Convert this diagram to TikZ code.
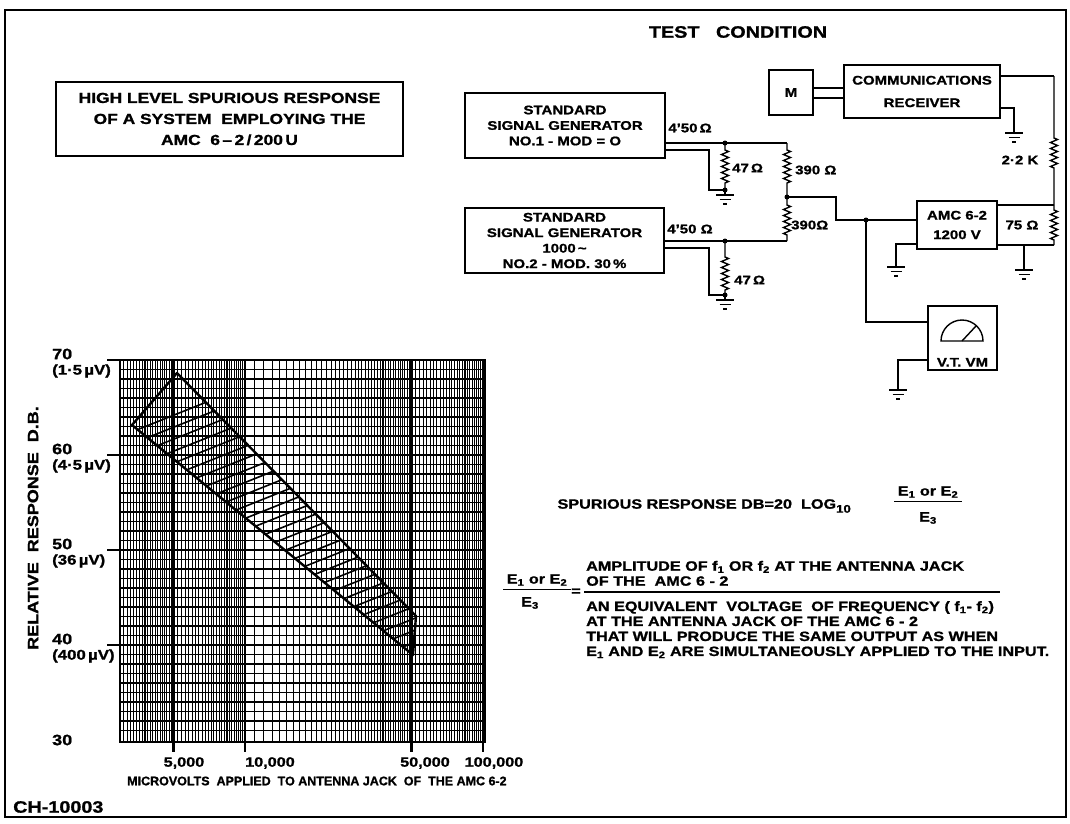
\documentclass[tikz,border=0pt]{standalone}
\usepackage{fontspec}
\setmainfont{Liberation Sans}[FakeStretch=1.2, BoldFeatures={FakeBold=1.2}]
\newfontfamily\plainfont{Liberation Sans}[BoldFeatures={FakeBold=1.2}]
\usetikzlibrary{positioning,calc,decorations.pathmorphing}

\newcommand\headfont{\fontsize{16.5}{20}\selectfont\bfseries}
\newcommand\titlefont{\fontsize{14.5}{21}\selectfont\bfseries}
\newcommand\boxfont{\fontsize{12.5}{15.5}\selectfont\bfseries}
\newcommand\notefont{\fontsize{13.5}{15}\selectfont\bfseries}
\newcommand\axisfont{\fontsize{15}{16}\selectfont\bfseries}
\newcommand\tickfont{\fontsize{13.5}{16}\selectfont\bfseries}
\newcommand\unitfont{\fontsize{14}{14}\selectfont\bfseries}
\newcommand\xfont{\plainfont\fontsize{12.5}{14}\selectfont\bfseries}

\tikzset{
  wire/.style={line width=1.4pt},
  box/.style={draw, line width=1.6pt, align=center, inner sep=0pt, font=\boxfont},
  res/.style 2 args={wire, decorate, decoration={zigzag, amplitude=3.5pt,
      segment length=6pt, pre length=#1, post length=#2}},
  dot/.style={circle, fill, inner sep=0pt, minimum size=5pt},
  lbl/.style={font=\boxfont, inner sep=1pt},
  gridline/.style={line width=1.05pt},
  gnd/.pic={\draw[wire] (0,0) -- (0,5) (-9,5) -- (9,5) (-5.5,9.5) -- (5.5,9.5) (-2,14) -- (2,14);}
}

\begin{document}
\begin{tikzpicture}[x=1pt, y=-1pt]
  \useasboundingbox (0,0) rectangle (1070,823);
  \draw[line width=1.8pt] (5,10) rectangle (1066,817);

  % headings
  \node[box, font=\titlefont, minimum width=347, minimum height=74] (title) at (229.5,119)
    {HIGH LEVEL SPURIOUS RESPONSE\\OF A SYSTEM\ \ EMPLOYING THE\\AMC\ \ 6\,--\,2\,/\,200\,U};
  \node[font=\headfont] (test) at (738,32) {TEST\ \ \ CONDITION};

  % test set-up
  \node[box, minimum width=200, minimum height=65] (sg1) at (565,125.5)
    {STANDARD\\SIGNAL GENERATOR\\NO.1 - MOD = O};
  \node[box, minimum width=199, minimum height=65] (sg2) at (564.5,240.5)
    {STANDARD\\SIGNAL GENERATOR\\1000\,\textasciitilde\\NO.2 - MOD. 30\,\%};
  \node[box, minimum width=44, minimum height=45] (meter) at (791,92.5) {M};
  \node[box, minimum width=156, minimum height=53] (rx) at (922,91.5) {COMMUNICATIONS\\[7pt]RECEIVER};
  \node[box, minimum width=80, minimum height=48] (amc) at (957,225) {AMC 6-2\\[4pt]1200 V};
  \node[box, minimum width=69, minimum height=64] (vtvm) at (962.5,338) {};
  \node[lbl, above=3pt of vtvm.south] (vtvmtxt) {V.T. VM};
  \draw[wire] (941,341) arc[start angle=180, end angle=360, radius=21] -- cycle;
  \draw[wire] (962,341) -- (976,326);

  \coordinate (j1) at (725,143);
  \coordinate (g1) at (725,190);
  \coordinate (o1) at (709,150);
  \coordinate (t2) at (787,143);
  \coordinate (j2) at (787,197);
  \coordinate (k2) at (836,197);
  \coordinate (b3) at (787,241);
  \coordinate (j3) at (725,241);
  \coordinate (o3) at (709,248);
  \coordinate (g3) at (725,295);
  \coordinate (jv) at (866,220);
  \coordinate (ta) at (1054,205);
  \coordinate (ba) at (1054,245);
  \coordinate (rt) at (1054,76);
  \coordinate (rb) at (1014,108);
  \coordinate (gr) at (1014,128);
  \coordinate (ga) at (896,262);
  \coordinate (gb) at (1024,265);
  \coordinate (gv) at (898,385);
  \coordinate (c1) at (830,88);
  \coordinate (c2) at (830,98);

  % pads
  \draw[wire] (sg1.east |- j1) -- (j1) -- (t2);
  \draw[wire] (sg1.east |- o1) -- (o1) |- (g1);
  \draw[res={7pt}{5pt}] (j1) -- (g1);
  \draw[res={7pt}{14pt}] (t2) -- (j2);
  \draw[wire] (sg2.east |- j3) -- (j3) -- (b3);
  \draw[wire] (sg2.east |- o3) -- (o3) |- (g3);
  \draw[res={16pt}{5pt}] (j3) -- (g3);
  \draw[res={8pt}{5pt}] (j2) -- (b3);
  % receiver side
  \draw[wire] (j2) -- (k2) |- (jv) -- (amc.west |- jv);
  \draw[wire] (jv) |- ($(vtvm.west)+(0,-16)$);
  \draw[wire] ($(vtvm.west)+(0,22)$) -| (gv);
  \draw[wire] ($(amc.west)+(0,19)$) -| (ga);
  \draw[wire] (amc.east |- ta) -- (ta);
  \draw[wire] (amc.east |- ba) -- (ba);
  \draw[res={5pt}{3pt}] (ta) -- (ba);
  \draw[wire] (gb |- ba) -- (gb);
  \draw[wire] (meter.east |- c1) -- (rx.west |- c1) (meter.east |- c2) -- (rx.west |- c2);
  \draw[wire] (rx.east |- rt) -- (rt);
  \draw[res={62pt}{37pt}] (rt) -- (ta);
  \draw[wire] (rx.east |- rb) -- (rb) -- (gr);
  \foreach \p in {j1,g1,j2,j3,g3,jv} \node[dot] at (\p) {};
  \foreach \p in {g1,g3,ga,gb,gv,gr} \pic at (\p) {gnd};

  \node[lbl] (coax1) at (690,128) {4'50\,Ω};
  \node[lbl, anchor=west] (r1lbl) at (731,168) {47\,Ω};
  \node[lbl, anchor=west] (r2lbl) at (794,170) {390 Ω};
  \node[lbl, anchor=west] (r3lbl) at (790,225) {390Ω};
  \node[lbl] (coax2) at (690,229) {4'50 Ω};
  \node[lbl, anchor=west] (r4lbl) at (733,280) {47\,Ω};
  \node[lbl] (r5lbl) at (1020,160) {2·2 K};
  \node[lbl] (r6lbl) at (1022,225) {75 Ω};

  % graph paper
  \foreach \v in {30,31,...,49} \draw[gridline] ({245+238*log10(\v/100)},360) -- ++(0,382);
  \foreach \v in {50,52,...,98} \draw[gridline] ({245+238*log10(\v/100)},360) -- ++(0,382);
  \foreach \v in {11,12,...,49} \draw[gridline] ({245+238*log10(\v/10)},360) -- ++(0,382);
  \foreach \v in {52,54,...,98} \draw[gridline] ({245+238*log10(\v/10)},360) -- ++(0,382);
  \foreach \d in {1,...,39} \draw[line width=1.4pt] (120,{360+9.5*\d}) -- ++(365,0);
  \draw[line width=1.4pt] (120,360) rectangle (485,742);
  \foreach \v in {5,10,50,100} \draw[line width=2.6pt] ({245+238*log10(\v/10)},360) -- ++(0,392);
  \foreach \d/\u in {70/1·5\,µV, 60/4·5\,µV, 50/36\,µV, 40/400\,µV}{
    \draw[line width=1.8pt] (107,{360+(70-\d)*9.5}) -- ++(13,0);
    \node[font=\axisfont, anchor=west, inner sep=0pt] (db\d) at (52,{354+(70-\d)*9.5}) {\d};
    \node[font=\unitfont, anchor=west, inner sep=0pt] (uv\d) at (52,{371+(70-\d)*9.5}) {(\u)};
  }
  \node[font=\axisfont, anchor=west, inner sep=0pt] (db30) at (52,740) {30};
  \node[font=\axisfont, rotate=90] (ytitle) at (33,528) {RELATIVE\ \ RESPONSE\ \ D.B.};

  \node[font=\tickfont] (x5) at (184,763) {5,000};
  \node[font=\tickfont] (x10) at (270,763) {10,000};
  \node[font=\tickfont] (x50) at (425,763) {50,000};
  \node[font=\tickfont] (x100) at (494,763) {100,000};
  \node[font=\xfont, anchor=west, inner sep=0pt] (xtitle) at (127,781)
    {MICROVOLTS\ \ APPLIED\ \ TO ANTENNA JACK\ \ OF\ \ THE AMC 6-2};
  \node[font=\headfont, anchor=west, inner sep=0pt] (code) at (13,807) {CH-10003};

  % response band
  \coordinate (bL) at (132,425);
  \coordinate (bT) at (177,373);
  \coordinate (bR) at (416,616);
  \coordinate (bB) at (413,655);
  \draw[line width=2.4pt, line join=round] (bL) -- (bT) -- (bR) -- (bB) -- cycle;
  \begin{scope}
    \clip (bL) -- (bT) -- (bR) -- (bB) -- cycle;
    \foreach \t in {0.02,0.055,...,1.0}
      \draw[line width=1.6pt] ($(bL)!\t!(bB)$) ++(-60,24) -- ++(150,-60);
  \end{scope}

  % formula
  \node[font=\notefont, anchor=west] (spur) at (554,506)
    {SPURIOUS RESPONSE DB=20\ \ LOG\raisebox{-4pt}{\fontsize{11}{11}\selectfont 10}};
  \node[font=\notefont] (e12a) at (928,492) {E\textsubscript{1} or E\textsubscript{2}};
  \node[font=\notefont] (e3a) at (928,518) {E\textsubscript{3}};
  \draw[line width=1pt] (e12a.south west) -- (e12a.south east);
  \node[font=\notefont] (e12b) at (537,580) {E\textsubscript{1} or E\textsubscript{2}};
  \node[font=\notefont] (e3b) at (530,603) {E\textsubscript{3}};
  \draw[line width=1pt] (e12b.south west) -- (e12b.south east);
  \node[font=\notefont] (eq) at (576,592) {=};
  \node[font=\notefont, align=left, anchor=south west, inner sep=0pt] (num) at (586,586)
    {AMPLITUDE\ OF\ f\textsubscript{1} OR f\textsubscript{2}\ AT\ THE\ ANTENNA\ JACK\\OF THE\ \ AMC 6 - 2};
  \draw[line width=1.4pt] (num.south west) ++(-2,6) -- ++(416,0);
  \node[font=\notefont, align=left, anchor=north west, inner sep=0pt] (den) at (586,601)
    {AN EQUIVALENT\ \ VOLTAGE\ \ OF FREQUENCY ( f\textsubscript{1}- f\textsubscript{2})\\
     AT THE ANTENNA JACK OF THE AMC 6 - 2\\
     THAT WILL PRODUCE THE SAME OUTPUT AS WHEN\\
     E\textsubscript{1} AND E\textsubscript{2} ARE SIMULTANEOUSLY APPLIED TO THE INPUT.};
\end{tikzpicture}
\end{document}
